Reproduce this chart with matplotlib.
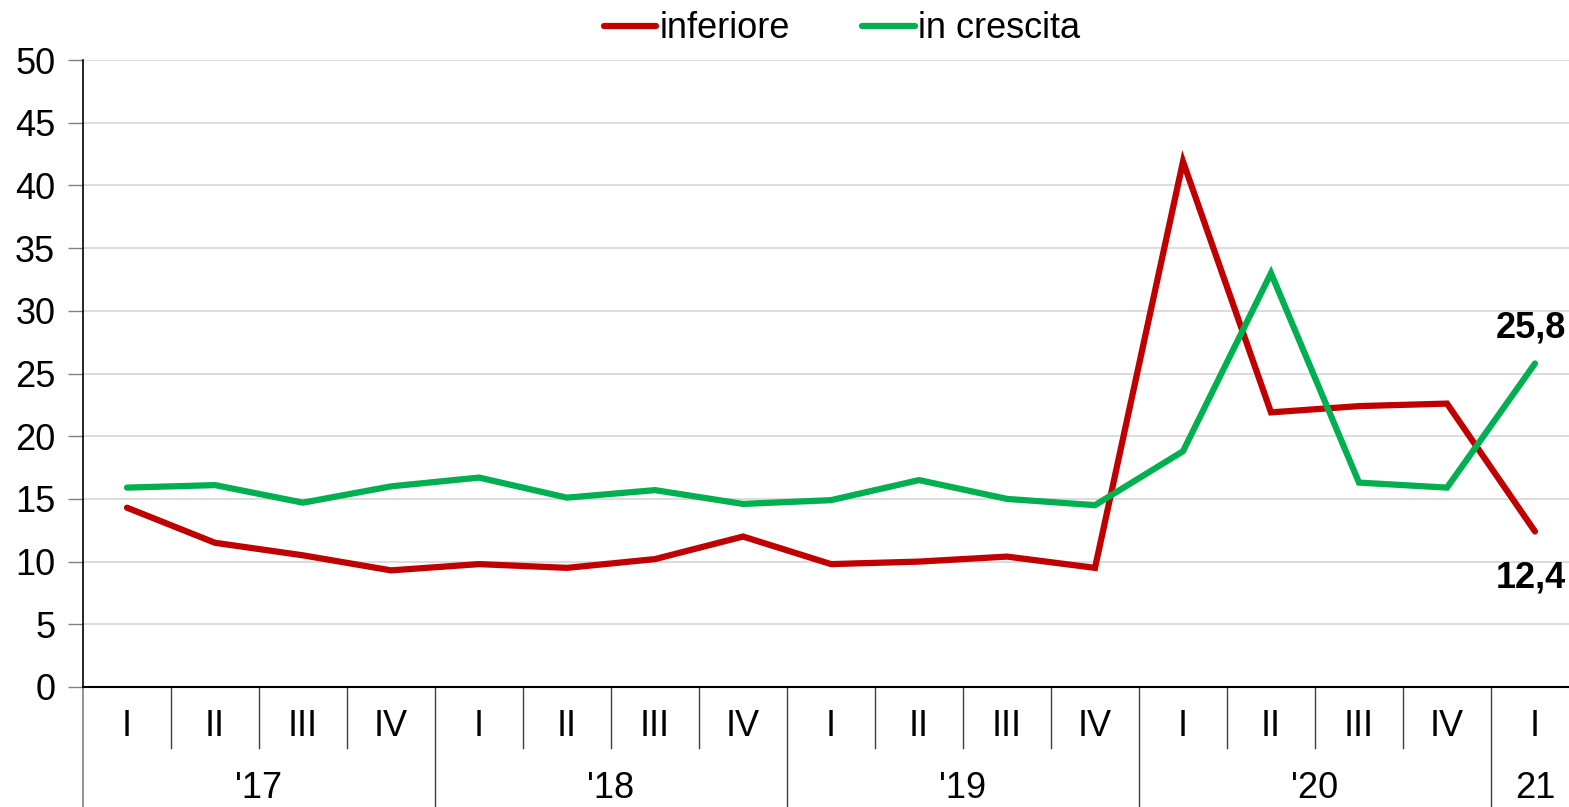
import matplotlib
matplotlib.use("Agg")
import matplotlib.pyplot as plt
from matplotlib.lines import Line2D

plt.rcParams['font.family'] = ['Liberation Sans', 'DejaVu Sans']

quarters = ["I", "II", "III", "IV"] * 4 + ["I"]
years = ["'17", "'18", "'19", "'20", "21"]
year_sizes = [4, 4, 4, 4, 1]

inferiore = [14.3, 11.5, 10.5, 9.3, 9.8, 9.5, 10.2, 12.0, 9.8, 10.0, 10.4, 9.5,
             41.9, 21.9, 22.4, 22.6, 12.4]
in_crescita = [15.9, 16.1, 14.7, 16.0, 16.7, 15.1, 15.7, 14.6, 14.9, 16.5, 15.0, 14.5,
               18.8, 33.0, 16.3, 15.9, 25.8]

RED = "#C00000"
GREEN = "#00B050"
FS = 26

W, H = 1569, 807
fig = plt.figure(figsize=(W / 100, H / 100), dpi=100)
left_px, right_px, top_px, bot_px = 83, 1579, 60, 687
ax = fig.add_axes([left_px / W, (H - bot_px) / H, (right_px - left_px) / W, (bot_px - top_px) / H])

n = len(quarters)
xs = [i + 0.5 for i in range(n)]
ax.plot(xs, inferiore, color=RED, lw=4.5, solid_capstyle='round', solid_joinstyle='miter', zorder=3, clip_on=False)
ax.plot(xs, in_crescita, color=GREEN, lw=4.5, solid_capstyle='round', solid_joinstyle='miter', zorder=3, clip_on=False)

ax.set_xlim(0, n)
ax.set_ylim(0, 50)
ax.set_yticks(range(0, 51, 5))
ax.yaxis.grid(True, color="#D9D9D9", lw=1.3)
ax.set_axisbelow(True)
for s in ["top", "right"]:
    ax.spines[s].set_visible(False)
ax.spines["left"].set_color("black")
ax.spines["left"].set_linewidth(1.2)
ax.spines["bottom"].set_color("black")
ax.spines["bottom"].set_linewidth(1.5)
ax.set_xticks([])
ax.tick_params(axis='y', length=11, width=1.0, color="#808080", labelsize=FS, pad=9)

# value labels for the last point
ax.annotate("25,8", (xs[-1], in_crescita[-1]), xytext=(-3, 13), textcoords="offset points",
            ha="center", va="bottom", fontsize=FS, fontweight="bold", annotation_clip=False)
ax.annotate("12,4", (xs[-1], inferiore[-1]), xytext=(-3, -21), textcoords="offset points",
            ha="center", va="top", fontsize=FS, fontweight="bold", annotation_clip=False)

# multi-level category axis
axh = bot_px - top_px
inner = -(748 - bot_px) / axh
outer = -(H - bot_px + 2) / axh
tr = ax.get_xaxis_transform()
q_y = -(727 - bot_px) / axh
y_y = -(788 - bot_px) / axh
for i, q in enumerate(quarters):
    ax.text(i + 0.5, q_y, q, transform=tr, ha="center", va="center", fontsize=FS)
ax.add_line(Line2D([0, 0], [outer, 0], transform=tr, color="#808080", lw=1.2, clip_on=False))
start = 0
boundaries = set()
for y, sz in zip(years, year_sizes):
    ax.text(start + sz / 2, y_y, y, transform=tr, ha="center", va="center", fontsize=FS)
    start += sz
    boundaries.add(start)
for k in range(1, n):
    if k in boundaries:
        ax.add_line(Line2D([k, k], [outer, 0], transform=tr, color="#404040", lw=1.0, clip_on=False))
    else:
        ax.add_line(Line2D([k, k], [inner, 0], transform=tr, color="#404040", lw=1.0, clip_on=False))

handles = [Line2D([], [], color=RED, lw=4.5, solid_capstyle='round'),
           Line2D([], [], color=GREEN, lw=4.5, solid_capstyle='round')]
fig.legend(handles, ["inferiore", "in crescita"], loc="center", bbox_to_anchor=(842 / W, 1 - 29 / H),
           ncol=2, frameon=False, fontsize=FS, handlelength=1.45, handletextpad=0.1, columnspacing=2.0,
           borderpad=0, borderaxespad=0)

fig.savefig("out.png", dpi=100)
